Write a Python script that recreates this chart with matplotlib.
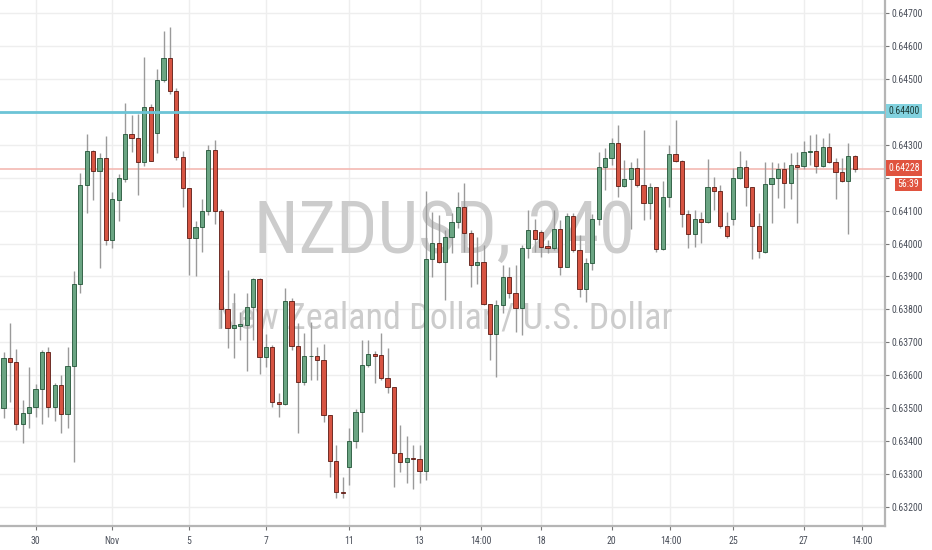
import matplotlib
matplotlib.use('Agg')
import matplotlib.pyplot as plt
from matplotlib.patches import Rectangle
from matplotlib import font_manager

opens = [0.63500,0.63652,0.63640,0.63451,0.63484,0.63503,0.63557,0.63670,0.63503,0.63570,
0.63481,0.63627,0.63877,0.64178,0.64281,0.64220,0.64260,0.64010,0.64132,0.64196,
0.64333,0.64320,0.64248,0.64415,0.64336,0.64497,0.64564,0.64463,0.64263,0.64168,
0.64016,0.64050,0.64099,0.64284,0.64099,0.63801,0.63743,0.63749,0.63752,0.63807,
0.63892,0.63655,0.63685,0.63518,0.63512,0.63825,0.63688,0.63579,0.63658,0.63658,
0.63646,0.63478,0.63339,0.63244,0.63320,0.63399,0.63488,0.63630,0.63664,0.63661,
0.63591,0.63564,0.63363,0.63336,0.63348,0.63345,0.63308,0.63953,0.64001,0.63944,
0.64020,0.64065,0.64111,0.64032,0.63934,0.63944,0.63816,0.63725,0.63813,0.63898,
0.63849,0.63804,0.63986,0.64041,0.64035,0.63992,0.63986,0.64044,0.63928,0.64083,
0.63980,0.63861,0.63940,0.64074,0.64232,0.64260,0.64305,0.64175,0.64196,0.64229,
0.64178,0.64123,0.64172,0.63983,0.64141,0.64272,0.64251,0.64089,0.64029,0.64074,
0.64065,0.64172,0.64159,0.64053,0.64074,0.64199,0.64232,0.64172,0.64053,0.63974,
0.64181,0.64199,0.64226,0.64184,0.64238,0.64235,0.64278,0.64281,0.64235,0.64293,
0.64248,0.64217,0.64190,0.64266]

highs = [0.63670,0.63758,0.63679,0.63524,0.63624,0.63573,0.63676,0.63685,0.63576,0.63600,
0.63685,0.63916,0.64214,0.64333,0.64284,0.64275,0.64327,0.64156,0.64211,0.64427,
0.64390,0.64393,0.64567,0.64424,0.64530,0.64646,0.64658,0.64472,0.64281,0.64168,
0.64068,0.64135,0.64299,0.64314,0.64105,0.63919,0.63849,0.63792,0.63849,0.63895,
0.63895,0.63725,0.63691,0.63545,0.63864,0.63834,0.63758,0.63728,0.63761,0.63685,
0.63694,0.63478,0.63387,0.63290,0.63439,0.63497,0.63706,0.63706,0.63673,0.63728,
0.63682,0.63564,0.63448,0.63415,0.63387,0.63387,0.64159,0.64096,0.64086,0.64041,
0.64092,0.64156,0.64184,0.64041,0.64020,0.63995,0.63816,0.63828,0.63934,0.63928,
0.63934,0.63995,0.64102,0.64074,0.64041,0.64010,0.64102,0.64071,0.64092,0.64092,
0.64026,0.63956,0.64089,0.64278,0.64290,0.64320,0.64360,0.64254,0.64248,0.64260,
0.64345,0.64184,0.64172,0.64190,0.64299,0.64375,0.64254,0.64102,0.64102,0.64096,
0.64257,0.64202,0.64178,0.64096,0.64229,0.64281,0.64254,0.64172,0.64092,0.64248,
0.64248,0.64244,0.64248,0.64275,0.64278,0.64311,0.64330,0.64333,0.64320,0.64336,
0.64260,0.64260,0.64305,0.64269]

lows = [0.63469,0.63518,0.63433,0.63393,0.63439,0.63472,0.63451,0.63472,0.63460,0.63424,
0.63439,0.63336,0.63849,0.64092,0.64132,0.63925,0.63995,0.63986,0.64068,0.64187,
0.64278,0.64147,0.64235,0.64251,0.64275,0.64491,0.64454,0.64254,0.64111,0.63904,
0.63901,0.63974,0.64086,0.64059,0.63743,0.63682,0.63652,0.63706,0.63612,0.63706,
0.63603,0.63624,0.63503,0.63472,0.63509,0.63676,0.63424,0.63570,0.63585,0.63585,
0.63457,0.63290,0.63226,0.63226,0.63266,0.63378,0.63427,0.63624,0.63576,0.63585,
0.63545,0.63260,0.63305,0.63272,0.63253,0.63272,0.63281,0.63898,0.63940,0.63828,
0.63971,0.64047,0.63974,0.63868,0.63877,0.63813,0.63646,0.63594,0.63788,0.63834,
0.63731,0.63722,0.63956,0.63974,0.63959,0.63971,0.63980,0.63904,0.63928,0.63974,
0.63837,0.63822,0.63919,0.64056,0.64162,0.64238,0.64141,0.64172,0.64044,0.64172,
0.64071,0.64074,0.63974,0.63980,0.64111,0.64248,0.64050,0.63986,0.63989,0.64001,
0.64062,0.64102,0.64047,0.64016,0.64056,0.64196,0.64114,0.63953,0.63956,0.63971,
0.64062,0.64138,0.64108,0.64135,0.64062,0.64226,0.64238,0.64214,0.64232,0.64244,
0.64135,0.64187,0.64029,0.64217]

closes = [0.63652,0.63640,0.63451,0.63484,0.63503,0.63557,0.63670,0.63503,0.63570,0.63481,
0.63627,0.63877,0.64178,0.64281,0.64220,0.64260,0.64010,0.64135,0.64199,0.64333,
0.64320,0.64248,0.64415,0.64251,0.64497,0.64564,0.64463,0.64263,0.64168,0.64016,
0.64050,0.64099,0.64284,0.64099,0.63801,0.63743,0.63752,0.63755,0.63807,0.63892,
0.63655,0.63685,0.63518,0.63512,0.63825,0.63688,0.63579,0.63658,0.63658,0.63646,
0.63478,0.63339,0.63244,0.63241,0.63399,0.63488,0.63630,0.63664,0.63658,0.63591,
0.63564,0.63363,0.63336,0.63348,0.63345,0.63308,0.63953,0.64001,0.63944,0.64020,
0.64065,0.64111,0.64032,0.63934,0.63944,0.63816,0.63725,0.63813,0.63898,0.63849,
0.63804,0.63986,0.64041,0.64013,0.63989,0.63986,0.64044,0.63928,0.64083,0.63980,
0.63861,0.63940,0.64074,0.64232,0.64260,0.64305,0.64175,0.64196,0.64229,0.64178,
0.64123,0.64172,0.63983,0.64141,0.64272,0.64251,0.64089,0.64029,0.64074,0.64065,
0.64172,0.64159,0.64053,0.64023,0.64199,0.64232,0.64172,0.64053,0.63977,0.64181,
0.64199,0.64226,0.64184,0.64238,0.64232,0.64278,0.64281,0.64235,0.64293,0.64248,
0.64217,0.64190,0.64266,0.64228]

x_tick_pos = [5, 17, 29, 41, 54, 65, 74.6, 84, 95, 104.2, 114, 125, 134.1]
x_tick_labels = ['30', 'Nov', '5', '7', '11', '13', '14:00', '18', '20', '14:00', '25', '27', '14:00']
price_ticks = [0.632, 0.633, 0.634, 0.635, 0.636, 0.637, 0.638, 0.639,
               0.640, 0.641, 0.642, 0.643, 0.644, 0.645, 0.646, 0.647]
price_tick_labels = ['0.63200', '0.63300', '0.63400', '0.63500', '0.63600', '0.63700',
                     '0.63800', '0.63900', '0.64000', '0.64100', '', '0.64300', '',
                     '0.64500', '0.64600', '0.64700']
resistance = 0.64400
last_price = 0.64228
last_label = '0.64228'
timer_label = '56:39'
res_label = '0.64400'
title_main = 'NZDUSD, 240'
title_sub = 'New Zealand Dollar / U.S. Dollar'

def pick_family(cands):
    for c in cands:
        try:
            font_manager.findfont(font_manager.FontProperties(family=c), fallback_to_default=False)
            return c
        except Exception:
            pass
    return 'DejaVu Sans'

narrow = pick_family(['Liberation Sans Narrow', 'Roboto Condensed', 'DejaVu Sans Condensed', 'Roboto'])

W, H = 932, 550
fig = plt.figure(figsize=(W/100, H/100), dpi=100)
fig.patch.set_facecolor('white')
ax = fig.add_axes([0, 24/H, 885/W, 526/H])
ax.set_facecolor('white')

n = len(opens)
xs = list(range(n))
up = [c >= o for o, c in zip(opens, closes)]
body_bottom = [min(o, c) for o, c in zip(opens, closes)]
body_h = [max(abs(c - o), 0.000012) for o, c in zip(opens, closes)]
face = ['#6ba583' if u else '#d75442' for u in up]
edge = ['#225437' if u else '#5b1a13' for u in up]

# grid
for p in price_ticks:
    ax.axhline(p, color='#eeeeee', lw=1, zorder=0)
for t in x_tick_pos:
    ax.axvline(t, color='#eeeeee', lw=1, zorder=0)

# watermark
ax.text(0.502, 0.519, title_main, transform=ax.transAxes, ha='center', va='baseline',
        fontsize=52, color='#cccccc', family=narrow, zorder=1)
ax.text(0.502, 0.3764, title_sub, transform=ax.transAxes, ha='center', va='baseline',
        fontsize=26, color='#cccccc', family=narrow, zorder=1)

ax.vlines(xs, lows, highs, color='#9a9a9a', lw=1, zorder=2)
ax.bar(xs, body_h, bottom=body_bottom, width=0.66, color=face, edgecolor=edge,
       linewidth=0.6, zorder=3)

ax.axhline(resistance, color='#6cc4d6', lw=2, zorder=4)
ax.axhline(last_price, color='#f4b9b3', lw=1.2, zorder=1.5)

ax.set_xlim(-0.547, 137.73)
ax.set_ylim(0.631413, 0.647404)

for s in ['top', 'left']:
    ax.spines[s].set_visible(False)
for s in ['right', 'bottom']:
    ax.spines[s].set_color('#b5b5b5')
    ax.spines[s].set_linewidth(1.6)

ax.yaxis.tick_right()
ax.set_yticks(price_ticks)
ax.set_yticklabels(price_tick_labels)
ax.set_xticks(x_tick_pos)
ax.set_xticklabels(x_tick_labels)
ax.tick_params(axis='y', length=3, width=0.8, color='#777777', labelsize=7,
               labelcolor='#4a4f5a', pad=2)
ax.tick_params(axis='x', length=3, width=0.8, color='#777777', labelsize=7,
               labelcolor='#4a4f5a', pad=4.5)
for lab in ax.get_xticklabels() + ax.get_yticklabels():
    lab.set_family(narrow)

def fig_box(x0, y0, x1, y1, color):
    fig.add_artist(Rectangle((x0/W, 1 - y1/H), (x1-x0)/W, (y1-y0)/H,
                             transform=fig.transFigure, facecolor=color,
                             edgecolor='none', zorder=5))

fig_box(886, 104, 922, 118.3, '#82d2df')
fig.text(904/W, 1 - 111.2/H, res_label, ha='center', va='center', fontsize=7,
         color='#1d3b36', family=narrow, zorder=6)
fig_box(886, 160, 922, 176, '#e0533f')
fig.text(904/W, 1 - 168/H, last_label, ha='center', va='center', fontsize=7,
         color='white', family=narrow, zorder=6)
fig_box(895, 178, 922, 190.7, '#e0533f')
fig.text(908.5/W, 1 - 184.3/H, timer_label, ha='center', va='center', fontsize=7,
         color='white', family=narrow, zorder=6)

fig.savefig('out.png', dpi=100, facecolor='white')
